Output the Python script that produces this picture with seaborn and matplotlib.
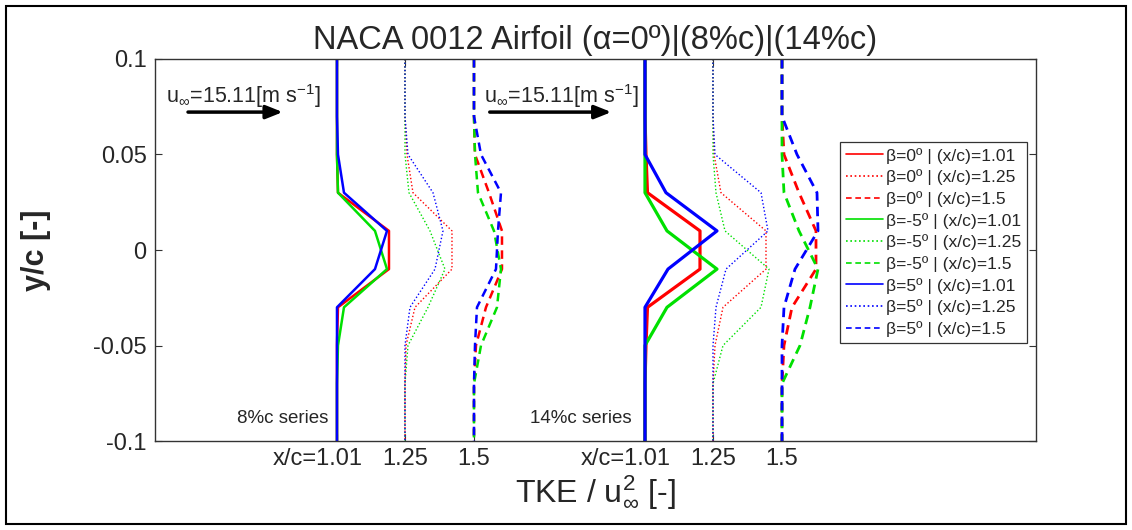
import matplotlib
matplotlib.use("Agg")
import matplotlib.pyplot as plt
import matplotlib.transforms as mtransforms
import numpy as np
import seaborn as sns
from matplotlib.lines import Line2D
from matplotlib.patches import Rectangle

sns.set_style("white")
plt.rcParams["font.family"] = ["Liberation Sans", "DejaVu Sans"]
plt.rcParams["mathtext.fontset"] = "custom"
plt.rcParams["mathtext.rm"] = "Liberation Sans"
plt.rcParams["mathtext.it"] = "Liberation Sans:italic"
plt.rcParams["mathtext.sf"] = "Liberation Sans"

# vertical traverse positions y/c
Y_LEVELS = [0.1, 0.07, 0.05, 0.03, 0.01, -0.01, -0.03, -0.05, -0.07, -0.1]

# station labels and horizontal baseline of each station profile
STATION_LABELS = ["x/c=1.01", "1.25", "1.5"]
STATION_NAMES = ["1.01", "1.25", "1.5"]
STATION_POS = [1.82, 2.50, 3.19]      # 8%c group
GROUP_SHIFT = 3.08                     # 14%c group sits to the right
GROUP_NAMES = ["8%c series", "14%c series"]

BETA_NAMES = ["0", "-5", "5"]
BETA_COLORS = ["#ff0000", "#00e000", "#0000ff"]
STATION_STYLES = ["-", (0, (1, 1.6)), (0, (3.4, 2.2))]

# scaled TKE profiles, rows = stations x/c = 1.01, 1.25, 1.5
tke8_beta0 = [
    [0, 0, 0, 0.01, 0.52, 0.52, 0.01, 0, 0, 0],
    [0, 0, 0.02, 0.08, 0.47, 0.47, 0.10, 0.01, 0, 0],
    [0, 0, 0.01, 0.15, 0.28, 0.28, 0.12, 0.02, 0, 0],
]
tke8_betam5 = [
    [0, 0, 0, 0.01, 0.38, 0.50, 0.07, 0.01, 0, 0],
    [0, 0, 0, 0.04, 0.25, 0.40, 0.23, 0.03, 0, 0],
    [0, 0, 0.01, 0.04, 0.20, 0.27, 0.23, 0.07, 0, 0],
]
tke8_betap5 = [
    [0, 0, 0.01, 0.07, 0.50, 0.38, 0, 0, 0, 0],
    [0, 0, 0.03, 0.28, 0.38, 0.30, 0.05, 0, 0, 0],
    [0, 0, 0.07, 0.27, 0.24, 0.22, 0.03, 0.01, 0, 0],
]
tke14_beta0 = [
    [0, 0, 0.01, 0.025, 0.55, 0.55, 0.025, 0.01, 0, 0],
    [0, 0, 0.01, 0.08, 0.53, 0.53, 0.10, 0.02, 0, 0],
    [0, 0, 0.02, 0.17, 0.34, 0.34, 0.10, 0.02, 0, 0],
]
tke14_betam5 = [
    [0, 0, 0, 0, 0.22, 0.72, 0.22, 0, 0, 0],
    [0, 0, 0, 0.03, 0.12, 0.56, 0.48, 0.10, 0, 0],
    [0, 0, 0, 0.02, 0.17, 0.36, 0.28, 0.18, 0, 0],
]
tke14_betap5 = [
    [0, 0, 0, 0.21, 0.72, 0.23, 0, 0, 0, 0],
    [0, 0, 0.02, 0.48, 0.55, 0.13, 0.03, 0, 0, 0],
    [0, 0, 0.15, 0.35, 0.36, 0.13, 0.02, 0, 0, 0],
]

GROUPS = [
    [tke8_beta0, tke8_betam5, tke8_betap5],
    [tke14_beta0, tke14_betam5, tke14_betap5],
]
GROUP_LW = [[1.8, 1.0, 1.8], [2.3, 1.0, 2.0]]

fig = plt.figure(figsize=(11.32, 5.30), dpi=100)
ax = fig.add_axes([0.1369, 0.1679, 0.7783, 0.7208])

for g, profiles in enumerate(GROUPS):
    shift = g * GROUP_SHIFT
    for b, beta_rows in enumerate(profiles):
        for s, row in enumerate(beta_rows):
            x = np.array(row) + STATION_POS[s] + shift
            sns.lineplot(
                x=x, y=Y_LEVELS, sort=False, estimator=None, ax=ax,
                color=BETA_COLORS[b], linestyle=STATION_STYLES[s],
                linewidth=GROUP_LW[g][s], legend=False,
            )

ax.set_xlim(0, 8.81)
ax.set_ylim(-0.1, 0.1)

tick_pos = [p + g * GROUP_SHIFT for g in range(2) for p in STATION_POS]
ax.set_xticks(tick_pos)
ax.set_xticklabels(STATION_LABELS * 2, fontsize=17)
ax.set_yticks([-0.1, -0.05, 0, 0.05, 0.1])
ax.set_yticklabels(["-0.1", "-0.05", "0", "0.05", "0.1"], fontsize=17)
ax.tick_params(direction="in", length=5, width=0.8, top=True, right=True,
               bottom=True, left=True, color="#333333")
ax.tick_params(axis="y", pad=6)
ax.tick_params(axis="x", pad=5)
# the long "x/c=" labels hang to the left of their tick
shift_left = mtransforms.ScaledTranslation(-0.19, 0, fig.dpi_scale_trans)
for lab in ax.get_xticklabels():
    if lab.get_text().startswith("x/c"):
        lab.set_transform(lab.get_transform() + shift_left)
for sp in ax.spines.values():
    sp.set_color("#333333")
    sp.set_linewidth(1.0)

ax.set_title("NACA 0012 Airfoil (α=0º)|(8%c)|(14%c)", fontsize=23.5, pad=7)
ax.set_xlabel(r"TKE / u$^{2}_{\infty}$ [-]", fontsize=23, labelpad=2)
ax.set_ylabel("y/c [-]", fontsize=22, fontweight="bold")
ax.yaxis.set_label_coords(-0.118, 0.5)

# free-stream velocity markers
for xt, xa0, xa1 in [(0.0125, 0.0375, 0.145), (0.374, 0.380, 0.518)]:
    ax.text(xt, 0.885, r"u$_{\infty}$=15.11[m s$^{-1}$]", transform=ax.transAxes,
            fontsize=15.5, va="baseline", ha="left")
    ax.annotate("", xy=(xa1, 0.861), xytext=(xa0, 0.861),
                xycoords="axes fraction", textcoords="axes fraction",
                arrowprops=dict(arrowstyle="-|>,head_length=1.0,head_width=0.4",
                                color="black", lw=2.5, shrinkA=0, shrinkB=0))

for name, xr in zip(GROUP_NAMES, [0.197, 0.541]):
    ax.text(xr, 0.06, name, transform=ax.transAxes, fontsize=13.5,
            ha="right", va="center")

handles = []
labels = []
for b, beta in enumerate(BETA_NAMES):
    for s, st in enumerate(STATION_NAMES):
        handles.append(Line2D([], [], color=BETA_COLORS[b],
                              linestyle=STATION_STYLES[s], linewidth=1.2))
        labels.append(f"β={beta}º | (x/c)={st}")
leg = ax.legend(handles, labels, loc="upper right", bbox_to_anchor=(0.99, 0.784),
                borderaxespad=0, fontsize=12.6, frameon=True, fancybox=False,
                edgecolor="#333333", framealpha=1, handlelength=2.1,
                handletextpad=0.15, labelspacing=0.33, borderpad=0.35)
leg.get_frame().set_linewidth(0.9)

fig.patches.append(Rectangle((6 / 1132, 6 / 530), 1120 / 1132, 518 / 530,
                             transform=fig.transFigure, fill=False,
                             edgecolor="black", linewidth=1.5))

fig.savefig("out.png", dpi=100)
